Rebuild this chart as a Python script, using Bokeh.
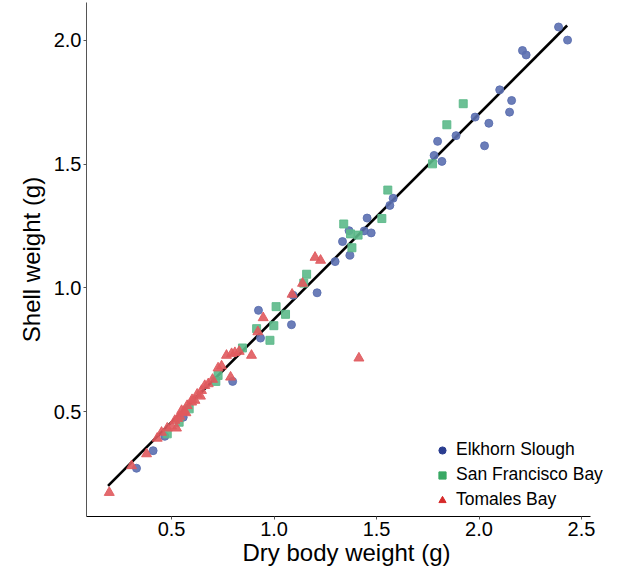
import math
from bokeh.plotting import figure
from bokeh.models import (Range1d, Legend, LegendItem, FixedTicker, ColumnDataSource,
                          NumeralTickFormatter)
from bokeh.embed import file_html
from bokeh.resources import INLINE

# Elkhorn Slough (blue circles)
es_x = [2.388, 2.432, 2.212, 2.230, 2.101, 2.159, 2.149, 1.981, 2.048, 1.888, 2.027, 1.798,
        1.781, 1.819, 1.581, 1.565, 1.454, 1.366, 1.474, 1.440, 1.334, 1.370, 1.298, 1.210,
        1.093, 0.924, 1.085, 0.934, 0.798, 0.557, 0.467, 0.410, 0.329]
es_y = [2.054, 2.001, 1.959, 1.941, 1.800, 1.757, 1.710, 1.690, 1.665, 1.615, 1.574, 1.592,
        1.535, 1.511, 1.362, 1.333, 1.282, 1.231, 1.222, 1.230, 1.187, 1.132, 1.106, 0.980,
        0.970, 0.909, 0.851, 0.797, 0.622, 0.477, 0.400, 0.342, 0.271]

# San Francisco Bay (green squares)
sf_x = [1.923, 1.843, 1.773, 1.526, 1.555, 1.340, 1.373, 1.410, 1.380, 1.159, 1.145, 1.010,
        1.056, 0.999, 0.915, 0.980, 0.846, 0.727, 0.716, 0.586, 0.537, 0.479]
sf_y = [1.744, 1.659, 1.501, 1.280, 1.395, 1.258, 1.218, 1.213, 1.162, 1.055, 1.019, 0.924,
        0.893, 0.847, 0.835, 0.788, 0.757, 0.646, 0.622, 0.511, 0.457, 0.410]

# Tomales Bay (red triangles)
tb_x = [0.196, 0.305, 0.378, 0.430, 0.451, 0.479, 0.500, 0.524, 0.516, 0.540, 0.549, 0.570,
        0.576, 0.598, 0.614, 0.641, 0.646, 0.662, 0.679, 0.727, 0.744, 0.768, 0.793, 0.809,
        0.830, 0.890, 0.788, 1.200, 1.227, 1.139, 1.088, 0.947, 0.921, 1.414, 0.530, 0.560,
        0.600, 0.625, 0.700]
tb_y = [0.173, 0.281, 0.329, 0.392, 0.416, 0.433, 0.441, 0.433, 0.464, 0.481, 0.504, 0.495,
        0.524, 0.538, 0.545, 0.562, 0.585, 0.605, 0.612, 0.676, 0.684, 0.727, 0.734, 0.738,
        0.743, 0.727, 0.639, 1.123, 1.111, 1.018, 0.974, 0.879, 0.822, 0.716, 0.472, 0.500,
        0.548, 0.570, 0.630]

# Fitted line end points
fit_x = [0.19, 2.43]
fit_y = [0.20, 2.06]

x_ticks = [0.5, 1.0, 1.5, 2.0, 2.5]
y_ticks = [0.5, 1.0, 1.5, 2.0]
series_names = ["Elkhorn Slough", "San Francisco Bay", "Tomales Bay"]

FONT = "Liberation Sans"

p = figure(width=606, height=568, output_backend="svg", toolbar_location=None,
           x_range=Range1d(0.085, 2.622), y_range=Range1d(0.076, 2.153),
           min_border_left=86, min_border_right=0, min_border_top=2, min_border_bottom=40)
p.outline_line_color = None
p.grid.visible = False

p.line(fit_x, fit_y, line_color="black", line_width=2.6)

p.scatter(es_x, es_y, marker="circle", size=8, fill_color="#5b6fb0", line_color="#5b6fb0",
          fill_alpha=0.9, line_alpha=0.9)
p.scatter(sf_x, sf_y, marker="square", size=8, fill_color="#5cb98a", line_color="#5cb98a",
          fill_alpha=0.9, line_alpha=0.9)
p.scatter(tb_x, tb_y, marker="triangle", size=10, fill_color="#e05a5e", line_color="#e05a5e",
          fill_alpha=0.9, line_alpha=0.9)

# legend-only renderers (off-screen NaN points)
def dummy():
    return ColumnDataSource(dict(x=[math.nan], y=[math.nan]))
l1 = p.scatter("x", "y", source=dummy(), marker="circle", fill_color="#2a3d90", line_color="#2a3d90")
l2 = p.scatter("x", "y", source=dummy(), marker="square", fill_color="#39a864", line_color="#39a864")
l3 = p.scatter("x", "y", source=dummy(), marker="triangle", fill_color="#d62a2a", line_color="#d62a2a")

legend = Legend(items=[LegendItem(label=series_names[0], renderers=[l1]),
                       LegendItem(label=series_names[1], renderers=[l2]),
                       LegendItem(label=series_names[2], renderers=[l3])],
                location=(347, 6), border_line_color=None, background_fill_alpha=0,
                padding=0, margin=0, spacing=4, glyph_width=18, glyph_height=18,
                label_height=18, label_standoff=5,
                label_text_font=FONT, label_text_font_size="17.5px", label_text_color="black")
p.add_layout(legend, "center")

p.xaxis.ticker = FixedTicker(ticks=x_ticks)
p.yaxis.ticker = FixedTicker(ticks=y_ticks)
p.xaxis.bounds = (0.085, 2.545)
p.xaxis.formatter = NumeralTickFormatter(format="0.0")
p.yaxis.formatter = NumeralTickFormatter(format="0.0")
p.xaxis.axis_label = "Dry body weight (g)"
p.yaxis.axis_label = "Shell weight (g)"
for ax in (p.xaxis, p.yaxis):
    ax.axis_label_text_font = FONT
    ax.axis_label_text_font_size = "24px"
    ax.axis_label_text_font_style = "normal"
    ax.axis_label_text_color = "black"
    ax.major_label_text_font = FONT
    ax.major_label_text_font_size = "20px"
    ax.major_label_text_color = "black"
    ax.minor_tick_line_color = None
    ax.major_tick_in = 0
    ax.major_tick_out = 3
    ax.major_tick_line_color = "#555555"
    ax.major_label_standoff = 2
    ax.axis_label_standoff = 0
p.xaxis.axis_line_color = "black"
p.yaxis.axis_line_color = "#555555"
p.yaxis.major_label_standoff = 2
p.yaxis.axis_label_standoff = 6

open("out.html", "w").write(file_html(p, INLINE))
